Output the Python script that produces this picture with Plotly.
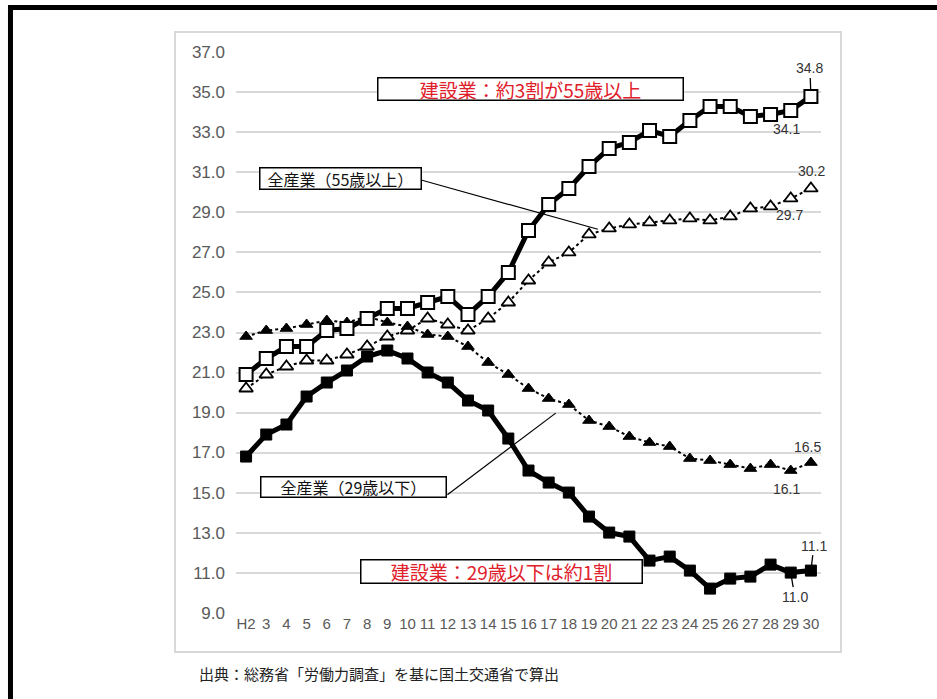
import plotly.graph_objects as go

# ---- data ----
years = ["H2"] + [str(i) for i in range(3, 31)]

const_55 = [20.9, 21.7, 22.3, 22.3, 23.1, 23.2, 23.7, 24.2, 24.2, 24.5, 24.8, 23.9,
            24.8, 26.0, 28.1, 29.4, 30.2, 31.3, 32.2, 32.5, 33.1, 32.8, 33.6, 34.3,
            34.3, 33.8, 33.9, 34.1, 34.8]
all_55 = [20.2, 20.9, 21.3, 21.6, 21.6, 21.9, 22.3, 22.8, 23.1, 23.7, 23.4, 23.1,
          23.7, 24.5, 25.6, 26.5, 27.0, 27.9, 28.2, 28.4, 28.5, 28.6, 28.7, 28.6,
          28.8, 29.2, 29.3, 29.7, 30.2]
all_29 = [22.8, 23.1, 23.2, 23.4, 23.6, 23.5, 23.8, 23.5, 23.3, 22.9, 22.8, 22.3,
          21.5, 20.9, 20.2, 19.7, 19.4, 18.6, 18.3, 17.8, 17.5, 17.3, 16.7, 16.6,
          16.4, 16.2, 16.4, 16.1, 16.5]
const_29 = [16.8, 17.9, 18.4, 19.8, 20.5, 21.1, 21.8, 22.1, 21.7, 21.0, 20.5, 19.6,
            19.1, 17.7, 16.1, 15.5, 15.0, 13.8, 13.0, 12.8, 11.6, 11.8, 11.1, 10.2,
            10.7, 10.8, 11.4, 11.0, 11.1]

y_ticks = [9 + 2 * k for k in range(15)]

fig = go.Figure()

# all-industry (dotted)
fig.add_trace(go.Scatter(
    x=years, y=all_55, mode="lines+markers", name="全産業(55歳以上)",
    line=dict(color="black", width=2, dash="dot"),
    marker=dict(symbol="triangle-up", size=12, color="white",
                line=dict(color="black", width=1.8))))
fig.add_trace(go.Scatter(
    x=years, y=all_29, mode="lines+markers", name="全産業(29歳以下)",
    line=dict(color="black", width=2, dash="dot"),
    marker=dict(symbol="triangle-up", size=11, color="black",
                line=dict(color="black", width=1))))
# construction (thick solid)
fig.add_trace(go.Scatter(
    x=years, y=const_55, mode="lines+markers", name="建設業(55歳以上)",
    line=dict(color="black", width=5),
    marker=dict(symbol="square", size=13, color="white",
                line=dict(color="black", width=2))))
fig.add_trace(go.Scatter(
    x=years, y=const_29, mode="lines+markers", name="建設業(29歳以下)",
    line=dict(color="black", width=5),
    marker=dict(symbol="square", size=11, color="black",
                line=dict(color="black", width=1))))

CJK = "Noto Sans CJK JP"
NUM = "Liberation Sans"
RED = "#e0202a"

ann = []
# boxed callouts
ann.append(dict(x=14.10, y=35.15, xref="x", yref="y", showarrow=False,
                text="建設業：約3割が55歳以上", font=dict(family=CJK, size=19, color=RED),
                bgcolor="white", bordercolor="black", borderwidth=1.5, borderpad=0,
                width=304, height=21, align="center"))
ann.append(dict(x=12.66, y=11.07, xref="x", yref="y", showarrow=False,
                text="建設業：29歳以下は約1割", font=dict(family=CJK, size=19, color=RED),
                bgcolor="white", bordercolor="black", borderwidth=1.5, borderpad=0,
                width=280, height=22, align="center"))
ann.append(dict(x=4.68, y=30.69, xref="x", yref="y", showarrow=False,
                text="全産業（55歳以上）", font=dict(family=CJK, size=16, color="#111"),
                bgcolor="white", bordercolor="black", borderwidth=1.5, borderpad=0,
                width=160, height=20, align="center"))
ann.append(dict(x=5.33, y=15.29, xref="x", yref="y", showarrow=False,
                text="全産業（29歳以下）", font=dict(family=CJK, size=16, color="#111"),
                bgcolor="white", bordercolor="black", borderwidth=1.5, borderpad=0,
                width=184, height=19, align="center"))

# data labels (x given as category index)
n = len(years)
lab_font = dict(family=NUM, size=14, color="#333")
ann.append(dict(x=n - 1, y=const_55[-1], text="34.8", showarrow=True, arrowhead=0,
                arrowwidth=1.3, arrowcolor="black", ax=-1, ay=-28, standoff=7, font=lab_font))
ann.append(dict(x=n - 2, y=const_55[-2], text="34.1", showarrow=False,
                xshift=-4, yshift=-19, font=lab_font))
ann.append(dict(x=n - 1, y=all_55[-1], text="30.2", showarrow=False,
                xshift=1, yshift=17, font=lab_font))
ann.append(dict(x=n - 2, y=all_55[-2], text="29.7", showarrow=False,
                xshift=-1, yshift=-17, font=lab_font))
ann.append(dict(x=n - 1, y=all_29[-1], text="16.5", showarrow=False,
                xshift=-3, yshift=16, font=lab_font))
ann.append(dict(x=n - 2, y=all_29[-2], text="16.1", showarrow=False,
                xshift=-4, yshift=-18, font=lab_font))
ann.append(dict(x=n - 1, y=const_29[-1], text="11.1", showarrow=True, arrowhead=0,
                arrowwidth=1.3, arrowcolor="black", ax=3, ay=-25, standoff=5, font=lab_font))
ann.append(dict(x=n - 2, y=const_29[-2], text="11.0", showarrow=True, arrowhead=0,
                arrowwidth=1.3, arrowcolor="black", ax=4, ay=24, standoff=5, font=lab_font))

# source
ann.append(dict(x=-0.0667, y=-0.107, xref="paper", yref="paper", xanchor="left",
                yanchor="middle", showarrow=False,
                text="出典：総務省「労働力調査」を基に国土交通省で算出",
                font=dict(family=CJK, size=15, color="#222")))

shapes = [
    # leader lines
    dict(type="line", xref="x", yref="y", x0=8.72, y0=30.61, x1=17.44, y1=28.16,
         line=dict(color="black", width=1.2)),
    dict(type="line", xref="x", yref="y", x0=9.98, y0=14.89, x1=15.35, y1=18.97,
         line=dict(color="black", width=1.2)),
    # inner light frame
    dict(type="rect", xref="paper", yref="paper", x0=-0.10427, x1=1.03419,
         y0=-0.06952, y1=1.03565, line=dict(color="#d9d9d9", width=2), layer="below"),
    # outer black frame
    dict(type="line", xref="paper", yref="paper", x0=-0.3897, x1=1.2, y0=1.0793, y1=1.0793,
         line=dict(color="black", width=5)),
    dict(type="line", xref="paper", yref="paper", x0=-0.3855, x1=-0.3855, y0=1.0838, y1=-0.16,
         line=dict(color="black", width=5)),
]

fig.update_layout(
    width=937, height=699, autosize=False,
    margin=dict(l=236, r=116, t=52, b=86),
    paper_bgcolor="white", plot_bgcolor="white",
    showlegend=False,
    annotations=ann, shapes=shapes,
    xaxis=dict(type="category", categoryorder="array", categoryarray=years,
               range=[-0.5, 28.5], showgrid=False, showline=False, zeroline=False,
               ticks="", tickfont=dict(family=NUM, size=15, color="#595959"),
               tickangle=0, fixedrange=True),
    yaxis=dict(range=[8.98, 37.02], tickvals=y_ticks, ticktext=[f"{v:.1f}" for v in y_ticks],
               showgrid=True, gridcolor="#d9d9d9", gridwidth=2, zeroline=False,
               showline=False, ticks="", ticklabelstandoff=10,
               tickfont=dict(family=NUM, size=17, color="#595959"), fixedrange=True),
)

fig.write_html("out.html", config={"displayModeBar": False},
               post_script="document.body.style.margin='0';document.body.style.overflow='hidden';")
